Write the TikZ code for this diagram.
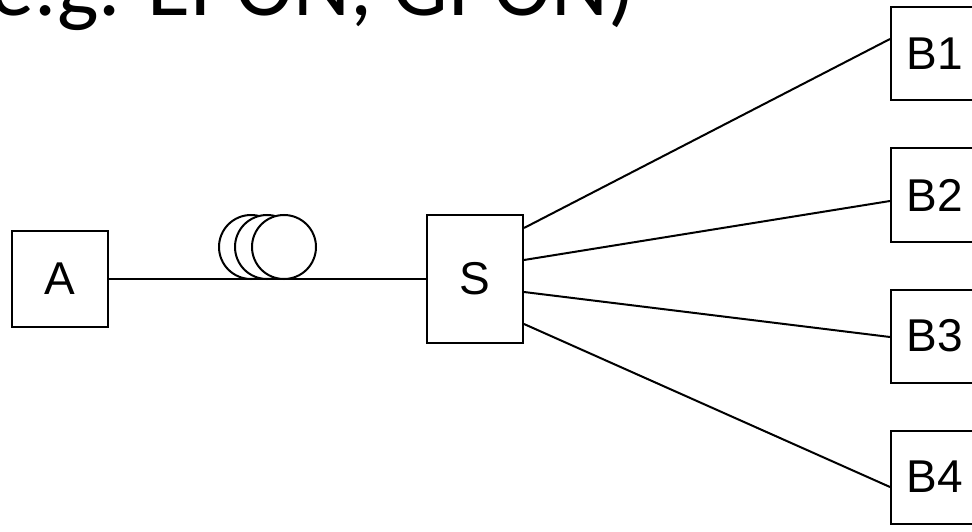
\documentclass[tikz,border=0pt]{standalone}
\usepackage{fontspec}
\newfontfamily\titlefont{Carlito}
\newfontfamily\boxfont{Liberation Sans}
\usetikzlibrary{calc}
\tikzset{
  box/.style={draw, line width=2pt, inner sep=0pt, minimum width=96pt, font=\boxfont\fontsize{46}{50}\selectfont},
  coilring/.style={draw, circle, fill=white, line width=2pt, inner sep=0pt, minimum size=64pt},
  wire/.style={line width=2pt}
}
\begin{document}
\begin{tikzpicture}[x=1pt,y=-1pt]
\useasboundingbox (0,0) rectangle (972,532);
\clip (0,0) rectangle (972,532);
\node[anchor=base west, inner sep=0pt] (title) at (-10,16) {\titlefont\fontsize{88}{90}\selectfont e.g. EPON, GPON)};
\node[box, minimum height=96pt] (A) at (60,279) {A};
\node[box, minimum height=128pt] (S) at (475,279) {S};
\node[box, minimum width=88pt, minimum height=93pt] (B1) at (935,54) {B1};
\node[box, minimum width=88pt, minimum height=93pt] (B2) at (935,195) {B2};
\node[box, minimum width=88pt, minimum height=93pt] (B3) at (935,336) {B3};
\node[box, minimum width=88pt, minimum height=93pt] (B4) at (935,477) {B4};
\draw[wire] (A.east) -- (S.west);
\node[coilring] (c1) at (251,247) {};
\node[coilring] (c2) at (267,247) {};
\node[coilring] (c3) at (284,247) {};
\draw[wire] ([yshift=51pt]S.east) -- ([yshift=15pt]B1.west);
\draw[wire] ([yshift=19pt]S.east) -- ([yshift=-6pt]B2.west);
\draw[wire] ([yshift=-13pt]S.east) -- ([yshift=-1pt]B3.west);
\draw[wire] ([yshift=-45pt]S.east) -- ([yshift=-10pt]B4.west);
\end{tikzpicture}
\end{document}
